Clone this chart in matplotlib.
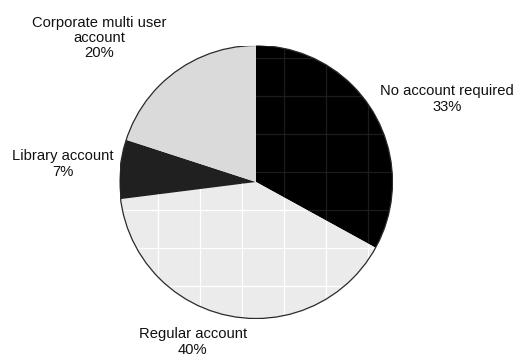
import matplotlib.pyplot as plt
import numpy as np

plt.rcParams['font.family'] = ['Liberation Sans', 'DejaVu Sans']

labels = ["No account required", "Regular account", "Library account",
          "Corporate multi user account"]
label_text = ["No account required", "Regular account", "Library account",
              "Corporate multi user\naccount"]
shares = [33, 40, 7, 20]
colors = ["#000000", "#ebebeb", "#202020", "#dadada"]

# label anchor points, in units of the pie radius
label_pos = [(1.399, 0.608), (-0.463, -1.172), (-1.418, 0.132), (-1.150, 1.053)]

fig = plt.figure(figsize=(5.15, 3.56), dpi=100)
cx, cy, r = 256, 182, 136.5
ax = fig.add_axes([(cx - r) / 515, (356 - cy - r) / 356, 2 * r / 515, 2 * r / 356])

wedges, _ = ax.pie(shares, colors=colors, startangle=90, counterclock=False,
                   radius=1, wedgeprops=dict(linewidth=0))
ax.set_xlim(-1, 1)
ax.set_ylim(-1, 1)
ax.set_aspect('equal')
ax.axis('off')

# textured grid on the first two slices
gx = np.arange(-0.718, 1.0, 42 / r)
gy = np.arange(0.911, -1.0, -38 / r)
grid_col = {0: "#1c1c1c", 1: "#ffffff"}
for i, c in grid_col.items():
    for x in gx:
        ln, = ax.plot([x, x], [-1, 1], color=c, lw=0.9, zorder=2)
        ln.set_clip_path(wedges[i])
    for y in gy:
        ln, = ax.plot([-1, 1], [y, y], color=c, lw=0.9, zorder=2)
        ln.set_clip_path(wedges[i])

# outline around the circumference
outline = plt.Circle((0, 0), 1, fill=False, edgecolor="#2a2a2a", lw=0.9, zorder=3)
ax.add_patch(outline)

for txt, v, (x, y) in zip(label_text, shares, label_pos):
    ax.text(x, y, f"{txt}\n{v}%", ha='center', va='center', fontsize=10.6,
            linespacing=1.1, color="#111111", clip_on=False)

fig.savefig("out.png", dpi=100)
